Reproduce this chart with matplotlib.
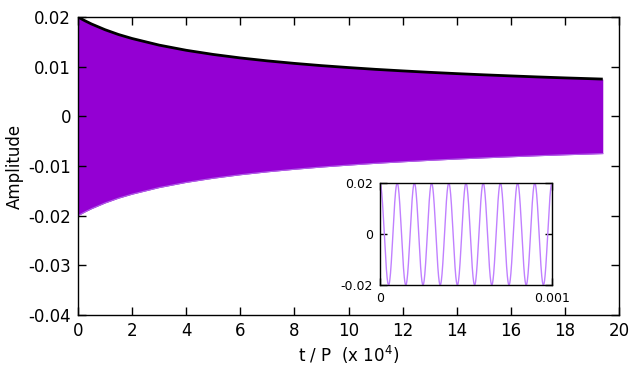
import numpy as np
import matplotlib
matplotlib.use("Agg")
import matplotlib.pyplot as plt

# Envelope (t in units of 1e4 P)
t_env = [0, 0.25, 0.5, 1, 1.5, 2, 3, 4, 5, 6, 7, 8, 9, 10, 11, 12, 13, 14, 15, 16, 17, 18, 19, 19.4]
a_env = [0.0200, 0.01926, 0.01859, 0.01744, 0.01647, 0.01567, 0.01434, 0.01330, 0.01246, 0.01176,
         0.01117, 0.01066, 0.01021, 0.00982, 0.00946, 0.00915, 0.00886, 0.00860, 0.00836, 0.00814,
         0.00793, 0.00774, 0.00757, 0.00750]

# Inset: oscillation
inset_amp = 0.02
inset_cycles = 10
inset_tmax = 0.001

x_ticks = [0, 2, 4, 6, 8, 10, 12, 14, 16, 18, 20]
y_ticks = [-0.04, -0.03, -0.02, -0.01, 0, 0.01, 0.02]
y_labels = ["-0.04", "-0.03", "-0.02", "-0.01", "0", "0.01", "0.02"]

fig = plt.figure(figsize=(6.4, 3.84), dpi=100)
ax = fig.add_axes([78/640, 1-315/384, (619-78)/640, (315-17)/384])

t = np.array(t_env)
a = np.array(a_env)
ax.fill_between(t, -a, a, color="#9400d3", linewidth=0)
ax.plot(t, -a, color="#b060e8", linewidth=0.8)
ax.plot(t, a, color="black", linewidth=2.0, solid_capstyle="butt")

ax.set_xlim(0, 20)
ax.set_ylim(-0.04, 0.02)
ax.set_xticks(x_ticks)
ax.set_xticklabels([str(v) for v in x_ticks])
ax.set_yticks(y_ticks)
ax.set_yticklabels(y_labels)
ax.tick_params(direction="in", top=True, right=True, length=6, width=1, labelsize=12, pad=5)
for s in ax.spines.values():
    s.set_linewidth(1)
ax.set_xlabel(r"t / P  (x 10$^{4}$)", fontsize=12, labelpad=3)
ax.set_ylabel("Amplitude", fontsize=12, labelpad=3)

# inset
ins = fig.add_axes([380/640, 1-285/384, (552-380)/640, (285-183)/384])
ti = np.linspace(0, inset_tmax, 2000)
ins.plot(ti, inset_amp*np.cos(2*np.pi*inset_cycles*ti/inset_tmax), color="#c080ff", linewidth=1)
ins.set_xlim(0, inset_tmax)
ins.set_ylim(-0.02, 0.02)
ins.set_xticks([0, 0.001])
ins.set_xticklabels(["0", "0.001"])
ins.set_yticks([-0.02, 0, 0.02])
ins.set_yticklabels(["-0.02", "0", "0.02"])
ins.tick_params(direction="in", top=True, right=True, length=5, width=1, labelsize=9, pad=5)
for s in ins.spines.values():
    s.set_linewidth(1)

fig.savefig("out.png", dpi=100)
